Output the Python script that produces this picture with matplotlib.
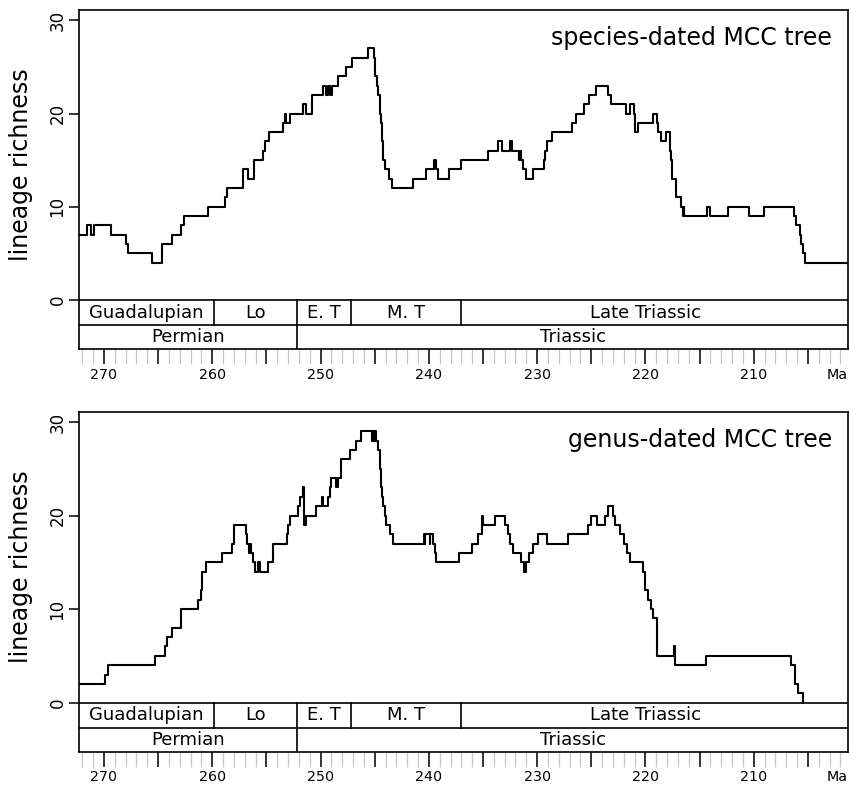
import numpy as np
import matplotlib.pyplot as plt

# species-dated MCC tree: age (Ma) where richness changes, value after the change
sp_age = [272.3, 271.6, 271.2, 270.95, 269.35, 268.0, 267.8, 265.6, 264.6, 263.75,
          262.9, 262.6, 260.4, 258.8, 258.6, 257.2, 256.7, 256.1, 255.3, 255.1,
          254.8, 253.45, 253.3, 253.2, 252.83, 251.6, 251.3, 250.8, 249.76, 249.45,
          249.3, 249.15, 248.9, 248.4, 247.66, 247.08, 245.6, 245.08,
          245.0, 244.93, 244.75, 244.65, 244.55, 244.48, 244.42, 244.36, 244.3, 244.25,
          244.2, 244.06, 243.66, 243.42, 241.5, 240.3, 239.5, 239.35, 239.2, 238.15,
          237.05, 234.5, 233.66, 233.2, 232.5, 232.35, 231.7, 231.6, 231.5, 231.3,
          231.05, 230.4, 229.4, 229.3, 229.1, 228.67, 226.8, 226.4, 225.7, 225.2,
          224.6, 223.5, 223.2, 221.84, 221.4, 221.1, 220.95, 220.65, 219.29, 218.98,
          218.83, 218.58, 218.06, 217.69, 217.6, 217.58, 217.56, 217.2, 217.18, 216.74,
          216.52, 216.45, 216.4, 214.3, 214.06, 212.37, 210.46, 209.08, 206.28, 206.06,
          205.75, 205.6, 205.45, 205.3, 201.3]
sp_rich = [7, 8, 7, 8, 7, 6, 5, 4, 6, 7,
           8, 9, 10, 11, 12, 14, 13, 15, 16, 17,
           18, 19, 20, 19, 20, 21, 20, 22, 23, 22,
           23, 22, 23, 24, 25, 26, 27, 26,
           25, 24, 23, 22, 21, 20, 19, 18, 17, 16,
           15, 14, 13, 12, 13, 14, 15, 14, 13, 14,
           15, 16, 17, 16, 17, 16, 15, 16, 15, 14,
           13, 14, 15, 16, 17, 18, 19, 20, 21, 22,
           23, 22, 21, 20, 21, 20, 18, 19, 20, 19,
           18, 17, 18, 16, 15, 14, 13, 12, 11, 10,
           9, 10, 9, 10, 9, 10, 9, 10, 9, 8,
           7, 6, 5, 4, 4]

# genus-dated MCC tree
gen_age = [272.3, 269.9, 269.6, 265.3, 264.37, 264.2, 263.75, 262.9, 261.3, 261.0,
           260.95, 260.9, 260.6, 259.1, 258.15, 257.97, 256.92, 256.77, 256.64, 256.52,
           256.4, 256.28, 256.06, 255.81, 255.63, 254.83, 254.4, 253.14, 252.98, 252.83,
           252.06, 251.85, 251.6, 251.5, 251.35, 250.46, 249.9, 249.75, 249.3, 249.14,
           249.0, 248.6, 248.43, 248.12, 247.29, 246.74, 246.22, 245.23, 245.14, 245.05,
           244.96, 244.84, 244.71, 244.52, 244.49, 244.46, 244.4, 244.33, 244.27, 244.03,
           243.97, 243.6, 243.35, 240.46, 240.38, 240.32, 239.92, 239.85, 239.6, 239.45,
           239.3, 237.26, 236.06, 235.45, 235.13, 234.98, 233.9, 232.95, 232.72, 232.52,
           232.22, 231.5, 231.22, 231.02, 230.72, 230.37, 229.9, 229.13, 227.14, 225.3,
           225.0, 224.5, 223.75, 223.45, 223.04, 222.83, 222.37, 222.0, 221.7, 221.44,
           220.2, 220.06, 219.75, 219.5, 219.32, 218.92, 217.38, 217.25, 214.43, 206.52,
           206.2, 205.9, 205.5]
gen_rich = [2, 3, 4, 5, 6, 7, 8, 10, 11, 12,
            13, 14, 15, 16, 17, 19, 18, 17, 16, 17,
            16, 15, 14, 15, 14, 15, 17, 18, 19, 20,
            21, 22, 23, 19, 20, 21, 22, 21, 22, 23,
            24, 23, 24, 26, 27, 28, 29, 28, 29, 28,
            29, 28, 27, 26, 25, 24, 23, 22, 21, 20,
            19, 18, 17, 18, 17, 18, 17, 18, 17, 16,
            15, 16, 17, 18, 20, 19, 20, 19, 18, 17,
            16, 15, 14, 15, 16, 17, 18, 17, 18, 19,
            20, 19, 20, 21, 20, 19, 18, 17, 16, 15,
            14, 12, 11, 10, 9, 5, 6, 4, 5, 4,
            2, 1, 0]

# geological time scale (Ma)
stage_names = ["Guadalupian", "Lo", "E. T", "M. T", "Late Triassic"]
stage_bounds = [272.3, 259.8, 252.17, 247.2, 237.0, 201.3]
stage_label_x = [266.05, 256.0, 249.7, 242.1, 220.0]
period_names = ["Permian", "Triassic"]
period_bounds = [272.3, 252.17, 201.3]

titles = ["species-dated MCC tree", "genus-dated MCC tree"]

W, H = 849, 787
fig = plt.figure(figsize=(W / 100, H / 100), dpi=100)

ymin, ymax = -5.25, 31.1
row = -2.68


def draw_panel(ax, ages, rich, title):
    ax.step(ages, rich, where="post", color="black", lw=1.5)
    ax.set_xlim(272.3, 201.3)
    ax.set_ylim(ymin, ymax)

    # time scale boxes
    ax.axhline(0, color="black", lw=1.2)
    ax.axhline(row, color="black", lw=1.2)
    for b in stage_bounds[1:-1]:
        ax.plot([b, b], [row, 0], color="black", lw=1.2)
    for b in period_bounds[1:-1]:
        ax.plot([b, b], [ymin, row], color="black", lw=1.2)
    for name, x in zip(stage_names, stage_label_x):
        ax.text(x, row / 2, name, ha="center", va="center", fontsize=13)
    for i, name in enumerate(period_names):
        x = (period_bounds[i] + period_bounds[i + 1]) / 2
        ax.text(x, (row + ymin) / 2, name, ha="center", va="center", fontsize=13)

    ax.text(0.979, 0.897, title, transform=ax.transAxes, ha="right",
            va="baseline", fontsize=17)

    # axes and ticks
    ax.set_yticks([0, 10, 20, 30])
    ax.tick_params(axis="y", length=7, width=1.1, pad=2, labelsize=12,
                   labelrotation=90)
    for lbl in ax.get_yticklabels():
        lbl.set_va("center")
    ax.set_ylabel("lineage richness", fontsize=17)
    ax.yaxis.set_label_coords(-0.06, 0.543)

    major = np.arange(270, 201, -5)
    ax.set_xticks(major)
    ax.set_xticklabels([str(t) if t % 10 == 0 else "" for t in major])
    ax.set_xticks(np.arange(272, 201, -1), minor=True)
    ax.tick_params(axis="x", which="major", length=11, width=1.1,
                   pad=2.5, labelsize=10.3, color="black")
    ax.tick_params(axis="x", which="minor", length=11, width=0.9,
                   color="#c8c8c8")
    ax.annotate("Ma", xy=(1, 0), xycoords="axes fraction", xytext=(0, -13.5),
                textcoords="offset points", ha="right", va="top", fontsize=10.3)

    for s in ax.spines.values():
        s.set_linewidth(1.2)


ax1 = fig.add_axes([79 / W, 1 - 349 / H, 769 / W, 339 / H])
draw_panel(ax1, sp_age, sp_rich, titles[0])
ax2 = fig.add_axes([79 / W, 1 - 751.7 / H, 769 / W, 340 / H])
draw_panel(ax2, gen_age, gen_rich, titles[1])

fig.savefig("out.png", dpi=100)
